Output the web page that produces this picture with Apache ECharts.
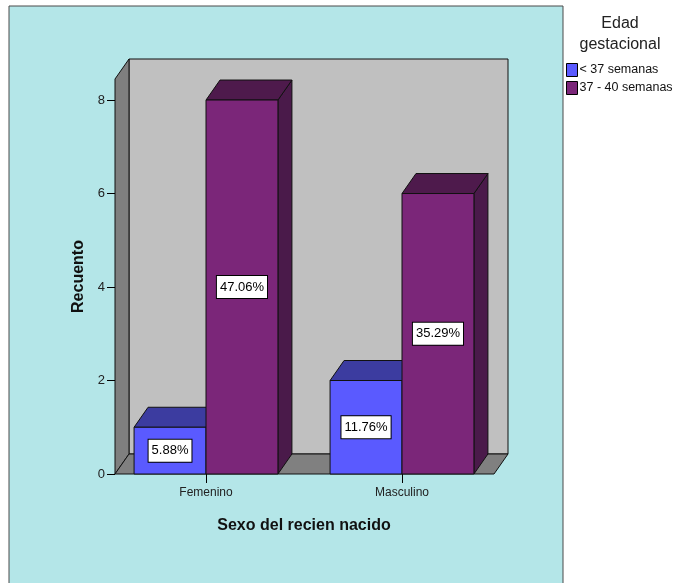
<!DOCTYPE html>
<html>
<head>
<meta charset="utf-8">
<script src="https://cdn.jsdelivr.net/npm/echarts@6/dist/echarts.min.js"></script>
<style>
  html, body { margin: 0; padding: 0; background: #ffffff; }
  #chart { width: 676px; height: 583px; }
</style>
</head>
<body>
<div id="chart"></div>
<script>
// Counts of newborns by sex and gestational age
const categories = ['Femenino', 'Masculino'];
const seriesNames = ['< 37 semanas', '37 - 40 semanas'];
const countsPreterm = [1, 2];
const countsTerm = [8, 6];
const yTickValues = [0, 2, 4, 6, 8];

const total = countsPreterm.concat(countsTerm).reduce((a, b) => a + b, 0);
const pct = v => (v / total * 100).toFixed(2) + '%';

// Look of the pseudo-3D box
const FONT = 'Liberation Sans, Arial, sans-serif';
const DX = 14, DY = 20;           // depth offset of back faces
const BAR_RATIO = 0.367;          // bar width as a share of the category band
const EDGE = '#111111';
const FACES = [
  { front: '#5a5aff', top: '#3c3ca0', side: '#2f2f86' },
  { front: '#7b2679', top: '#4e1a4c', side: '#4a1a4a' }
];

const GRID = { left: 108, top: 79, right: 176, bottom: 109 };
const W = 676, H = 583;
const plotBottom = H - GRID.bottom;      // floor front edge
const axisX = 115;                        // front edge of the left wall
const floorRight = 494;

function makeRender(idx) {
  const c = FACES[idx];
  return function (params, api) {
    const cat = api.value(0);
    const v = api.value(1);
    const base = api.coord([cat, 0]);
    const top = api.coord([cat, v]);
    const w = api.size([1, 0])[0] * BAR_RATIO;
    const x0 = idx === 0 ? base[0] - w : base[0];
    const x1 = x0 + w;
    const yb = base[1], yt = top[1];
    const edge = { stroke: EDGE, lineWidth: 1 };
    return {
      type: 'group',
      children: [
        {
          type: 'polygon',
          shape: { points: [[x1, yt], [x1 + DX, yt - DY], [x1 + DX, yb - DY], [x1, yb]] },
          style: Object.assign({ fill: c.side }, edge)
        },
        {
          type: 'polygon',
          shape: { points: [[x0, yt], [x0 + DX, yt - DY], [x1 + DX, yt - DY], [x1, yt]] },
          style: Object.assign({ fill: c.top }, edge)
        },
        {
          type: 'rect',
          shape: { x: x0, y: yt, width: w, height: yb - yt },
          style: Object.assign({ fill: c.front }, edge)
        },
        {
          type: 'text',
          x: (x0 + x1) / 2,
          y: (yt + yb) / 2,
          style: {
            text: pct(v),
            align: 'center',
            verticalAlign: 'middle',
            font: '13px ' + FONT,
            fill: '#000',
            backgroundColor: '#ffffff',
            borderColor: '#000',
            borderWidth: 1,
            padding: [5, 3, 4, 3]
          },
          z2: 10
        }
      ]
    };
  };
}

const backX = axisX + DX, backTop = GRID.top - DY, backBottom = plotBottom - DY;
const wallStroke = { stroke: EDGE, lineWidth: 1 };

const chart = echarts.init(document.getElementById('chart'), null, { renderer: 'canvas' });
chart.setOption({
  animation: false,
  backgroundColor: '#ffffff',
  graphic: [
    {
      type: 'rect', z: -10, silent: true,
      shape: { x: 9, y: 6, width: 554, height: 620 },
      style: { fill: '#b4e6e8', stroke: '#4a4a4a', lineWidth: 1 }
    },
    {
      type: 'polygon', z: -5, silent: true,
      shape: { points: [[backX, backTop], [floorRight + DX, backTop], [floorRight + DX, backBottom], [backX, backBottom]] },
      style: Object.assign({ fill: '#c0c0c0' }, wallStroke)
    },
    {
      type: 'polygon', z: -5, silent: true,
      shape: { points: [[axisX, GRID.top], [backX, backTop], [backX, backBottom], [axisX, plotBottom]] },
      style: Object.assign({ fill: '#7f7f7f' }, wallStroke)
    },
    {
      type: 'polygon', z: -5, silent: true,
      shape: { points: [[axisX, plotBottom], [floorRight, plotBottom], [floorRight + DX, backBottom], [backX, backBottom]] },
      style: Object.assign({ fill: '#808080' }, wallStroke)
    },
    {
      type: 'text', z: 5, silent: true,
      x: 620, y: 13,
      style: {
        text: 'Edad\ngestacional',
        align: 'center',
        font: '16px ' + FONT,
        lineHeight: 21,
        fill: '#222'
      }
    }
  ],
  legend: {
    orient: 'vertical',
    left: 566,
    top: 63,
    padding: 0,
    itemWidth: 11,
    itemHeight: 13,
    itemGap: 4,
    icon: 'rect',
    itemStyle: { borderColor: '#000', borderWidth: 1 },
    textStyle: { fontFamily: FONT, fontSize: 12.5, color: '#111', padding: [0, 0, 0, -3] },
    data: seriesNames
  },
  grid: GRID,
  xAxis: {
    type: 'category',
    data: categories,
    axisLine: { show: false },
    axisTick: { show: true, alignWithLabel: true, length: 9, lineStyle: { color: '#000' } },
    axisLabel: { fontFamily: FONT, fontSize: 12, color: '#222', margin: 13 },
    splitLine: { show: false },
    name: 'Sexo del recien nacido',
    nameLocation: 'middle',
    nameGap: 44,
    nameTextStyle: { fontFamily: FONT, fontSize: 16, fontWeight: 'bold', color: '#111' }
  },
  yAxis: {
    type: 'value',
    min: 0,
    max: 8.45,
    offset: -7,
    axisLine: { show: false },
    axisTick: { show: true, length: 8, customValues: yTickValues, lineStyle: { color: '#000' } },
    axisLabel: { fontFamily: FONT, fontSize: 13, color: '#222', margin: 10, customValues: yTickValues },
    splitLine: { show: false },
    name: 'Recuento',
    nameLocation: 'middle',
    nameGap: 28,
    nameTextStyle: { fontFamily: FONT, fontSize: 16, fontWeight: 'bold', color: '#111' }
  },
  series: [
    {
      name: seriesNames[0],
      type: 'custom',
      renderItem: makeRender(0),
      itemStyle: { color: FACES[0].front },
      encode: { x: 0, y: 1 },
      data: countsPreterm.map((v, i) => [i, v]),
      z: 2
    },
    {
      name: seriesNames[1],
      type: 'custom',
      renderItem: makeRender(1),
      itemStyle: { color: FACES[1].front },
      encode: { x: 0, y: 1 },
      data: countsTerm.map((v, i) => [i, v]),
      z: 3
    }
  ]
});
</script>
</body>
</html>
